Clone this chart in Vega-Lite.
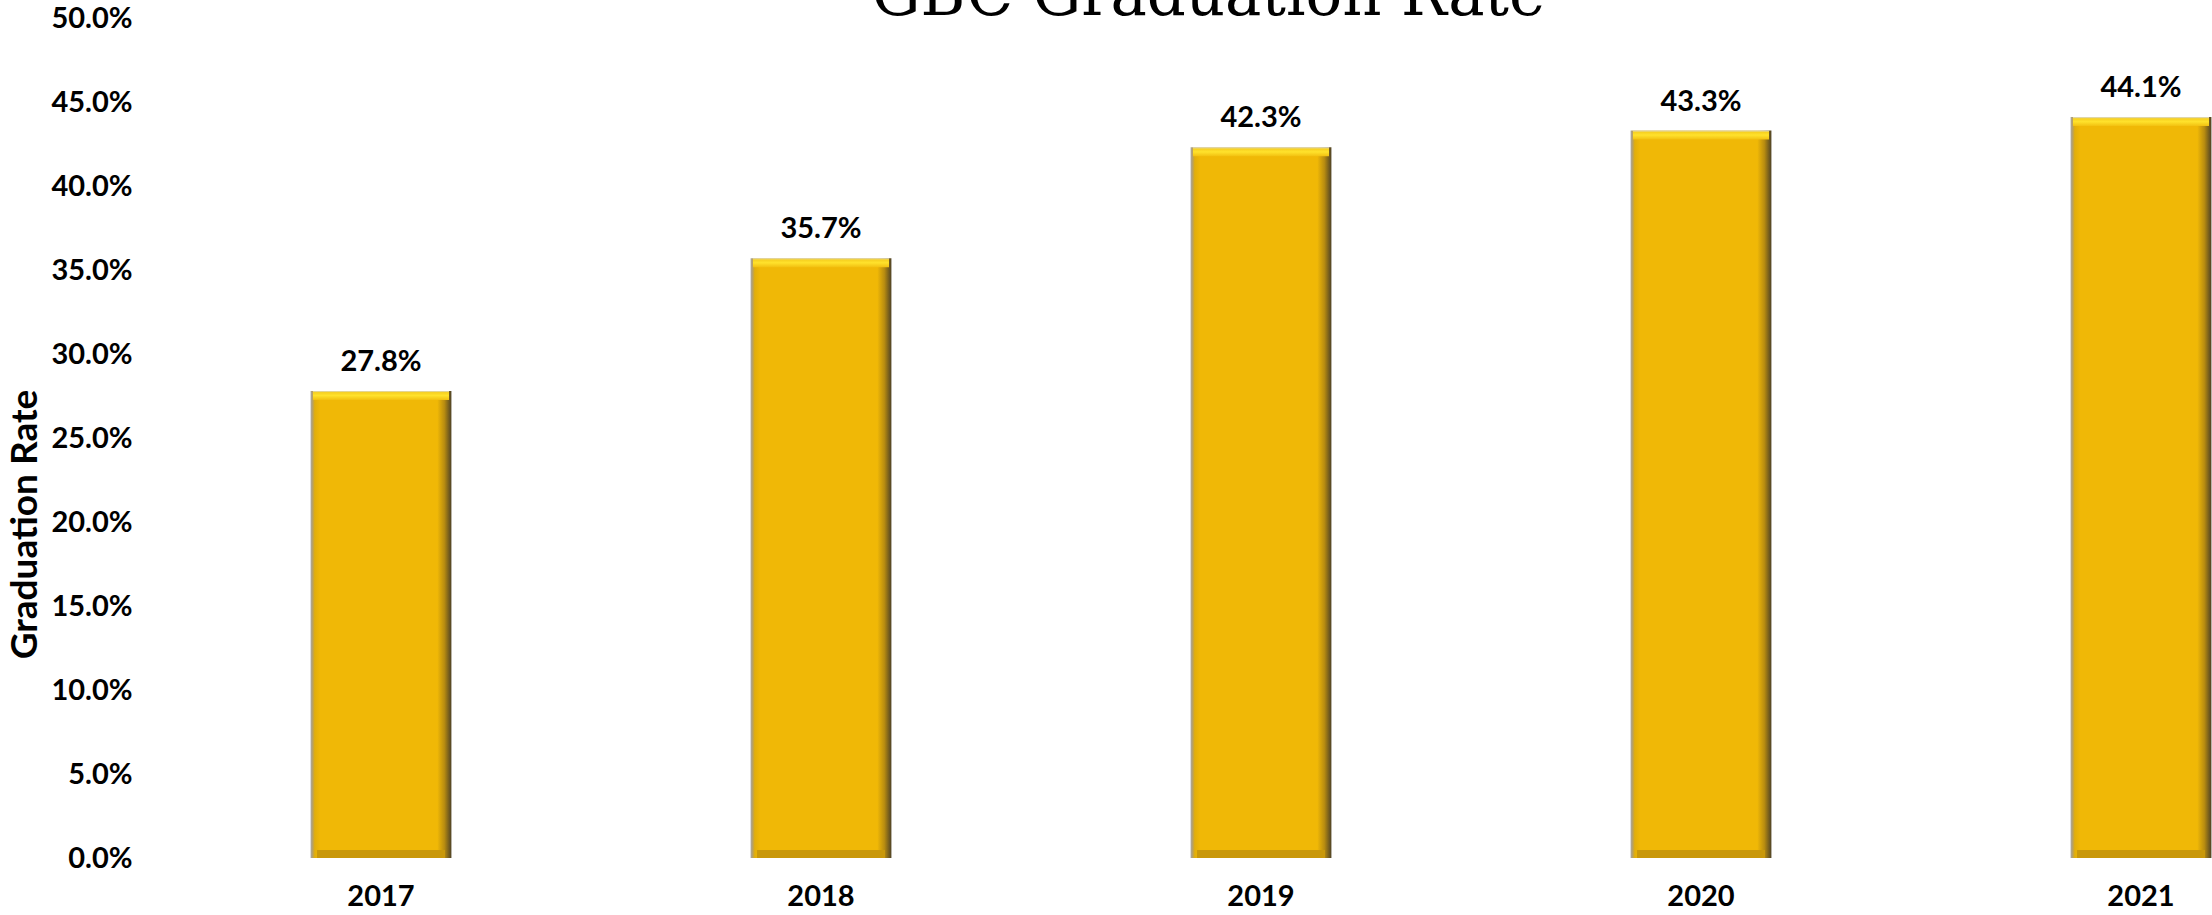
{
  "$schema": "https://vega.github.io/schema/vega-lite/v6.json",
  "autosize": {"type": "none"},
  "padding": {"left": 161, "top": 18, "right": 0, "bottom": 57},
  "width": 2051,
  "height": 840,
  "background": "white",
  "title": {
    "text": "GBC Graduation Rate",
    "font": "DejaVu Serif",
    "fontSize": 61,
    "fontWeight": "normal",
    "color": "black",
    "anchor": "middle",
    "frame": "group",
    "baseline": "alphabetic",
    "offset": 0,
    "dx": 22,
    "dy": 72
  },
  "config": {
    "view": {"stroke": null},
    "axis": {"labelFont": "Lato", "labelFontWeight": "bold", "labelColor": "black", "labelFontSize": 29, "grid": false, "domain": false, "ticks": false, "tickSize": 0}
  },
  "data": {
    "values": [
      {"year": "2017", "rate": 0.278},
      {"year": "2018", "rate": 0.357},
      {"year": "2019", "rate": 0.423},
      {"year": "2020", "rate": 0.433},
      {"year": "2021", "rate": 0.441}
    ]
  },
  "encoding": {
    "x": {
      "field": "year", "type": "nominal",
      "scale": {"range": [0, 2200], "paddingInner": 0.68, "paddingOuter": 0.34},
      "axis": {"title": null, "labelAngle": 0, "labelPadding": 24}
    },
    "y": {
      "field": "rate", "type": "quantitative",
      "scale": {"domain": [0, 0.5], "nice": false},
      "axis": {
        "values": [0, 0.05, 0.1, 0.15, 0.2, 0.25, 0.3, 0.35, 0.4, 0.45, 0.5],
        "format": ".1%",
        "labelPadding": 29,
        "title": "Graduation Rate",
        "titleFont": "Lato", "titleFontWeight": "bold", "titleFontSize": 37, "titleColor": "black",
        "titleAngle": -90, "titleAlign": "center", "titleBaseline": "alphabetic",
        "titleX": -125, "titleY": 506
      }
    }
  },
  "layer": [
    {
      "mark": {
        "type": "bar",
        "color": {
          "gradient": "linear", "x1": 0, "x2": 1, "y1": 0, "y2": 0,
          "stops": [
            {"offset": 0, "color": "#a6a6a6"},
            {"offset": 0.015, "color": "#b8a060"},
            {"offset": 0.03, "color": "#e2ae08"},
            {"offset": 0.07, "color": "#F0B806"},
            {"offset": 0.9, "color": "#F0B806"},
            {"offset": 0.95, "color": "#b88c10"},
            {"offset": 1, "color": "#4e4226"}
          ]
        }
      },
      "encoding": {"y2": {"datum": 0}}
    },
    {
      "mark": {"type": "bar", "width": 128, "xOffset": 0, "yOffset": -8, "color": "#C9980A"},
      "encoding": {"y": {"datum": 0}, "y2": {"datum": 0}}
    },
    {
      "mark": {
        "type": "bar", "width": 136, "y2Offset": 9,
        "color": {
          "gradient": "linear", "x1": 0, "x2": 0, "y1": 0, "y2": 1,
          "stops": [
            {"offset": 0, "color": "#d8d8d0"},
            {"offset": 0.18, "color": "#f7d020"},
            {"offset": 0.5, "color": "#FFE22C"},
            {"offset": 1, "color": "#F2C010"}
          ]
        }
      },
      "encoding": {"y2": {"field": "rate"}}
    },
    {
      "mark": {"type": "text", "font": "Lato", "fontWeight": "bold", "fontSize": 29, "color": "black", "baseline": "alphabetic", "dy": -20},
      "encoding": {"text": {"field": "rate", "type": "quantitative", "format": ".1%"}}
    }
  ]
}
